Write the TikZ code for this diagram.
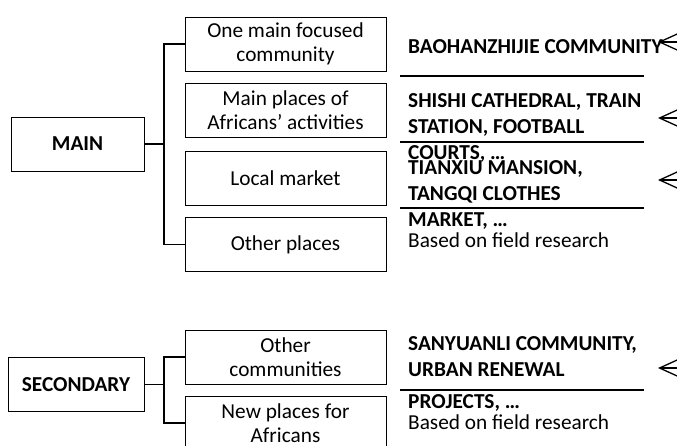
\documentclass[tikz,border=0pt]{standalone}
\usepackage{fontspec}
\setmainfont{Carlito}
\usetikzlibrary{arrows.meta}
\newcommand\calfont{\fontsize{21.3}{24}\selectfont}
\tikzset{
  sitebox/.style={draw,line width=0.9pt,minimum width=201pt,minimum height=54pt,align=center,inner sep=0pt,font=\calfont},
  levelbox/.style={draw,line width=0.9pt,minimum height=54pt,inner sep=0pt,font=\calfont\bfseries},
  link/.style={line width=1.6pt},
  place/.style={anchor=base west,align=left,inner sep=0pt,font=\fontsize{21.3}{26}\selectfont\bfseries},
  source/.style={anchor=base west,inner sep=0pt,font=\calfont},
  pointer/.style={-{Straight Barb[length=22pt,width=20pt]},line width=1.3pt}
}
\begin{document}
\begin{tikzpicture}[x=1pt,y=-1pt]
\useasboundingbox (0,0) rectangle (677,445);
\clip (0,0) rectangle (677,445);
\node[levelbox,minimum width=133pt] (main) at (77.5,144) {MAIN};
\node[sitebox] (focus) at (285.5,44) {One main focused\\community};
\node[sitebox] (activ) at (285.5,110) {Main places of\\Africans’ activities};
\node[sitebox] (market) at (285.5,178) {Local market};
\node[sitebox] (otherpl) at (285.5,244.5) {Other places};
\coordinate (mj) at (164,144);
\draw[link] (main.east) -- (mj);
\draw[link] (focus.west) -| (mj) |- (otherpl.west);
\node[levelbox,minimum width=136pt] (second) at (76,384.5) {SECONDARY};
\node[sitebox] (othercom) at (285.5,357) {Other\\communities};
\node[sitebox] (newpl) at (285.5,423) {New places for\\Africans};
\coordinate (sj) at (164,384.5);
\draw[link] (second.east) -- (sj);
\draw[link] (othercom.west) -| (sj) |- (newpl.west);
% texts on the right, base = last line
\node[place] (baohan) at (408,53) {BAOHANZHIJIE COMMUNITY};
\draw[line width=1.5pt] (400,76) -- (644,76);
\node[place] (shishi) at (408,159) {SHISHI CATHEDRAL, TRAIN\\STATION, FOOTBALL\\COURTS, …};
\draw[line width=1.2pt] (400,142) -- (644,142);
\node[place] (tianxiu) at (408,226) {TIANXIU MANSION,\\TANGQI CLOTHES\\MARKET, …};
\draw[line width=1.2pt] (400,208) -- (644,208);
\node[source] (src1) at (408,247) {Based on field research};
\node[place] (sanyuan) at (408,408) {SANYUANLI COMMUNITY,\\URBAN RENEWAL\\[6pt]PROJECTS, …};
\draw[line width=1.2pt] (400,390) -- (644,390);
\node[source] (src2) at (408,429) {Based on field research};
\coordinate (t1) at (658,42); \coordinate (s1) at (700,42);
\coordinate (t2) at (658,118); \coordinate (s2) at (700,118);
\coordinate (t3) at (658,180); \coordinate (s3) at (700,180);
\coordinate (t4) at (658,368); \coordinate (s4) at (700,368);
\draw[pointer] (s1) -- (t1);
\draw[pointer] (s2) -- (t2);
\draw[pointer] (s3) -- (t3);
\draw[pointer] (s4) -- (t4);
\end{tikzpicture}
\end{document}
